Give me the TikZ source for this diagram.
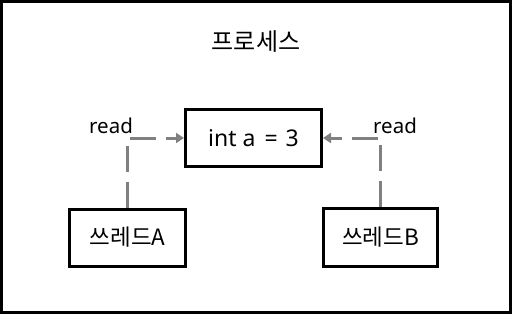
\documentclass[tikz,border=0pt]{standalone}
\usepackage{fontspec}
\setmainfont{Noto Sans}
\newfontfamily\kr{Noto Sans CJK KR}
\usetikzlibrary{arrows.meta}
\tikzset{
  box/.style={draw=black, line width=3pt, inner sep=0pt},
  conn/.style={draw=gray, line width=3pt, dash pattern=on 26pt off 10pt, -{Triangle[length=8pt,width=10pt]}},
  lbl/.style={font=\fontsize{20.5}{24}\selectfont, inner sep=0pt}
}
\begin{document}
\begin{tikzpicture}[x=1pt,y=-1pt]
\useasboundingbox (0,0) rectangle (512,314);
\draw[line width=3pt] (1.5,1.5) rectangle (510.5,312.5);
\node[font=\kr\fontsize{24}{28}\selectfont] (title) at (256,42) {프로세스};
\node[box, minimum width=136pt, minimum height=57pt, font=\fontsize{23}{26}\selectfont] (var) at (253.5,138) {int a\hspace{3pt} = \hspace{2pt}3};
\node[box, minimum width=116pt, minimum height=57pt, font=\kr\fontsize{22.5}{26}\selectfont] (ta) at (127.5,237.5) {쓰레드A};
\node[box, minimum width=114pt, minimum height=58pt, font=\kr\fontsize{22.5}{26}\selectfont] (tb) at (380.5,237.5) {쓰레드B};
\coordinate (ca) at (ta.north |- var.west);
\coordinate (cb) at (tb.north |- var.east);
\draw[conn] (ta.north) -- (ca) -- (var.west);
\draw[conn] (tb.north) -- (cb) -- (var.east);
\node[lbl] (ra) at (111,126) {read};
\node[lbl] (rb) at (395,126) {read};
\end{tikzpicture}
\end{document}
